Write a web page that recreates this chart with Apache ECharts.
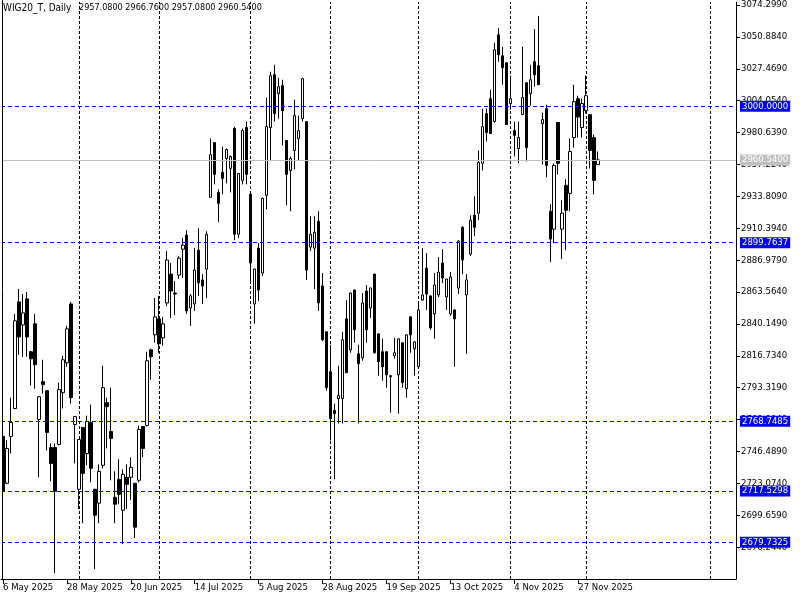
<!DOCTYPE html>
<html>
<head>
<meta charset="utf-8">
<script src="https://cdn.jsdelivr.net/npm/echarts@6/dist/echarts.min.js"></script>
<style>html,body{margin:0;padding:0;background:#fff}#chart{width:800px;height:600px}</style>
</head>
<body>
<div id="chart"></div>
<script>
const symbolName = 'WIG20_T, Daily';
const mayDays = [6,7,8,9,12,13,14,15,16,19,20,21,22,23,26,27,28,29,30];
const junDays = [2,3,4,5,6,9,10,11,12,13,16,17,18,20,23,24,25,26,27,30];
const julDays = [1,2,3,4,7,8,9,10,11,14,15,16,17,18,21,22,23,24,25,28,29,30,31];
const augDays = [1,4,5,6,7,8,11,12,13,14,18,19,20,21,22,25,26,27,28,29];
const sepDays = [1,2,3,4,5,8,9,10,11,12,15,16,17,18,19,22,23,24,25,26,29,30];
const octDays = [1,2,3,6,7,8,9,10,13,14,15,16,17,20,21,22,23,24,27,28,29,30,31];
const novDays = [3,4,5,6,7,10,12,13,14,17,18,19,20,21,24,25,26,27,28];
const decDays = [1,2,3,4];
const totalSlots = 184;           // bars + empty future space (chart shift)
const labelEvery = 16;
const monthStarts = [19, 39, 62, 82, 104, 127, 146, 177];

const opens = [2757.5,2723.1,2757.5,2778.0,2856.3,2839.4,2858.5,2819.7,2840.2,2769.9,2797.7,2791.1,2749.4,2749.4,2751.6,2789.7,2811.6,2854.8,2766.3,2718.7,
2764.1,2745.0,2767.7,2718.7,2708.5,2736.3,2782.4,2761.1,2712.8,2726.0,2703.3,2727.5,2727.5,2723.1,2725.3,2764.8,2765.5,2821.1,2832.1,2843.8,
2829.9,2855.5,2876.7,2862.8,2876.0,2895.0,2905.3,2851.9,2854.8,2894.3,2872.4,2880.4,2933.1,2973.3,2936.7,2951.4,2961.6,2954.3,2983.6,2906.0,
2945.5,2984.3,2935.3,2854.8,2895.8,2877.5,2934.5,2984.3,3023.1,3009.2,3015.0,2974.8,2952.8,2967.5,2976.3,2990.9,2988.7,2896.5,2895.8,2915.5,
2868.0,2834.3,2805.0,2776.5,2785.3,2785.3,2843.8,2821.1,2865.0,2818.2,2815.3,2864.3,2851.9,2876.7,2832.8,2819.7,2819.7,2802.1,2816.7,2802.8,
2826.3,2792.6,2845.3,2821.9,2808.7,2857.7,2881.1,2860.7,2847.5,2861.4,2884.8,2859.9,2847.5,2850.4,2866.5,2911.1,2861.4,2891.4,2919.9,2921.4,
2958.0,2994.6,3005.5,2988.7,3052.4,3037.0,3031.9,3001.9,2982.1,2968.9,2993.8,3017.2,3009.2,3032.6,3029.7,2987.2,2998.2,2922.8,2909.7,2988.0,
2909.7,2941.9,2936.0,2977.0,3005.5,2984.3,2996.7,2993.8,2977.0,2957.08];
const closes = [2717.2,2748.7,2767.7,2842.4,2830.6,2848.2,2830.6,2814.5,2810.2,2786.7,2795.5,2760.4,2737.7,2717.2,2791.9,2813.8,2836.5,2786.0,2772.1,2755.3,
2730.4,2768.5,2734.1,2699.7,2731.9,2793.3,2779.4,2756.0,2707.7,2715.0,2729.7,2722.4,2734.8,2690.9,2762.6,2748.7,2813.1,2816.0,2845.3,2825.5,
2840.2,2887.0,2864.3,2862.1,2888.4,2898.0,2849.7,2860.7,2879.7,2870.2,2868.0,2906.0,2964.5,2949.9,2928.7,2947.0,2968.2,2963.1,2906.0,2950.6,
2982.1,2949.9,2884.8,2880.4,2865.0,2932.4,2985.0,3022.4,2994.6,3014.3,2996.7,2949.9,2961.6,2993.1,2982.1,3020.2,2879.7,2906.0,2907.5,2855.5,
2828.5,2793.3,2770.6,2774.3,2787.5,2828.5,2804.3,2862.8,2835.8,2810.9,2855.5,2835.8,2866.5,2818.9,2812.4,2808.7,2802.8,2801.4,2818.9,2829.2,
2797.0,2832.1,2832.1,2827.0,2850.4,2861.4,2862.1,2837.2,2868.7,2878.2,2873.8,2873.1,2874.6,2843.8,2900.9,2887.0,2872.4,2916.3,2911.1,2958.7,
2985.0,2980.7,2979.9,3041.4,3037.7,3028.2,2986.5,3005.5,2978.5,2977.0,3006.3,2969.7,3019.4,3023.1,3015.8,2990.2,2956.5,2902.4,2956.5,2958.0,
2921.4,2923.6,2966.7,3003.3,2992.0,3001.9,3007.7,2967.5,2945.5,2960.54];
const lows = [2715.0,2722.4,2745.0,2777.5,2817.5,2816.0,2816.0,2794.8,2792.6,2727.5,2788.9,2747.2,2724.5,2657.2,2750.9,2778.0,2808.7,2781.6,2737.7,2704.1,
2693.8,2736.3,2723.8,2660.2,2693.8,2734.1,2748.7,2725.3,2693.8,2707.7,2678.5,2704.1,2710.7,2682.9,2723.8,2742.1,2764.8,2799.2,2826.3,2818.9,
2824.1,2853.3,2844.5,2846.7,2873.1,2873.8,2847.5,2838.7,2849.7,2860.7,2854.8,2859.2,2932.8,2942.6,2914.8,2935.3,2943.3,2936.7,2901.6,2903.1,
2942.6,2942.6,2871.6,2840.2,2857.0,2875.3,2924.3,2960.2,2988.7,2990.9,2971.1,2927.2,2922.8,2953.6,2960.0,2988.7,2872.4,2893.6,2865.8,2849.7,
2827.7,2791.1,2754.6,2726.0,2767.0,2767.0,2804.0,2819.0,2826.3,2767.0,2813.1,2826.3,2844.5,2818.2,2802.1,2798.5,2793.3,2775.0,2814.5,2774.3,
2793.3,2786.0,2818.9,2802.1,2808.4,2857.0,2850.4,2835.8,2829.2,2859.9,2870.2,2850.4,2846.0,2808.7,2862.1,2876.7,2818.2,2889.9,2904.5,2916.3,
2952.8,2974.1,2979.6,2988.0,3032.6,3015.8,2986.2,2997.5,2963.1,2958.0,2993.5,2959.4,3000.4,3014.3,3015.5,2957.2,2947.7,2885.5,2899.4,2949.9,
2887.7,2894.3,2922.8,2969.7,2977.0,2977.0,2994.6,2954.3,2935.3,2957.08];
const highs = [2761.9,2754.6,2786.0,2847.5,2865.8,2862.1,2863.6,2820.4,2847.5,2787.0,2813.8,2791.4,2752.4,2752.4,2797.0,2816.7,2838.7,2856.3,2772.4,2755.6,
2764.4,2772.8,2780.9,2719.0,2737.0,2809.4,2786.0,2793.3,2731.9,2740.7,2733.3,2737.0,2742.1,2723.4,2765.5,2765.1,2819.7,2821.9,2859.2,2860.7,
2845.3,2893.6,2884.8,2871.6,2889.9,2903.1,2908.9,2862.1,2895.8,2910.4,2876.7,2908.2,2976.3,2973.6,2938.9,2970.4,2968.9,2963.8,2985.0,2950.9,
2983.6,2988.7,2935.6,2880.7,2899.4,2932.7,3006.3,3025.3,3030.4,3020.9,3019.4,2975.1,2963.1,3004.8,2993.1,3020.9,2989.0,2919.2,2919.2,2922.8,
2877.5,2834.6,2824.8,2781.6,2809.4,2834.3,2857.7,2863.1,2865.3,2824.8,2862.8,2868.7,2866.8,2877.0,2833.1,2829.2,2820.0,2802.4,2829.9,2829.5,
2826.6,2832.4,2845.6,2827.3,2855.5,2895.8,2892.1,2861.0,2877.5,2889.2,2895.0,2873.4,2878.2,2850.7,2901.6,2911.9,2876.7,2919.9,2933.8,2967.5,
2998.2,2998.2,3012.1,3046.5,3057.5,3043.6,3032.2,3022.4,2988.7,2988.7,3043.6,3017.5,3030.4,3056.7,3066.3,2995.3,3001.1,2928.0,2958.0,2988.3,
2930.9,2946.3,2976.3,3015.8,3007.7,3005.5,3022.4,2994.1,2979.2,2966.76];

const levels = [3000.0000, 2899.7637, 2768.7485, 2717.5298, 2679.7325];
const yMin = 2652.829, yMax = 3076.494, yStep = 23.415;

const monthNames = [['May', mayDays], ['Jun', junDays], ['Jul', julDays], ['Aug', augDays], ['Sep', sepDays], ['Oct', octDays], ['Nov', novDays], ['Dec', decDays]];
const dates = [];
monthNames.forEach(([m, days]) => days.forEach(d => dates.push(d + ' ' + m + ' 2025')));
const categories = [];
for (let i = 0; i < totalSlots; i++) categories.push(i < dates.length ? dates[i] : 'slot' + i);

const candles = opens.map((o, i) => [o, closes[i], lows[i], highs[i]]);
const last = opens.length - 1;
const bid = closes[last];
const FONT = '"DejaVu Sans Condensed", "DejaVu Sans", sans-serif';
const FS = 9.5;
const showLabel = (idx) => idx % labelEvery === 0 && idx < dates.length;

const chart = echarts.init(document.getElementById('chart'), null, {renderer: 'canvas'});
chart.setOption({
  animation: false,
  backgroundColor: '#ffffff',
  title: [
    {text: symbolName, left: 3, top: 3, padding: 0,
     textStyle: {fontSize: 10, fontWeight: 'normal', color: '#000', fontFamily: FONT}},
    {text: [opens[last], highs[last], lows[last], closes[last]].map(v => v.toFixed(4)).join(' '),
     left: 79, top: 3, padding: 0,
     textStyle: {fontSize: 9, fontWeight: 'normal', color: '#000', fontFamily: FONT}}
  ],
  grid: {left: 0, right: 64, top: 0, bottom: 21},
  xAxis: {
    type: 'category', data: categories, boundaryGap: true,
    axisLine: {lineStyle: {color: '#000', width: 1}},
    axisTick: {show: true, interval: showLabel, alignWithLabel: true, length: 5, lineStyle: {color: '#000'}},
    axisLabel: {interval: showLabel, align: 'left', margin: 4, fontSize: FS, color: '#000', fontFamily: FONT},
    splitLine: {show: false}
  },
  yAxis: {
    type: 'value', position: 'right', min: yMin, max: yMax, interval: yStep,
    axisLine: {show: true, lineStyle: {color: '#000', width: 1}},
    axisTick: {show: true, length: 4, lineStyle: {color: '#000'}},
    axisLabel: {formatter: v => v.toFixed(4), showMinLabel: false, showMaxLabel: false, margin: 5, fontSize: FS, color: '#000', fontFamily: FONT},
    splitLine: {show: false}
  },
  graphic: [
    {type: 'rect', shape: {x: 0, y: 0, width: 2, height: 579}, style: {fill: '#ffffff'}, z: 9},
    {type: 'line', shape: {x1: 2.5, y1: 0, x2: 2.5, y2: 579}, style: {stroke: '#000', lineWidth: 1}, z: 10}
  ],
  series: [
    {
      type: 'line', data: [], z: 1, silent: true,
      markLine: {
        z: 1, silent: true, symbol: ['none', 'none'], animation: false,
        label: {show: false},
        lineStyle: {color: '#000', type: [3, 2], width: 1},
        emphasis: {disabled: true},
        data: monthStarts.map(i => ({xAxis: i}))
      }
    },
    {
      type: 'candlestick', data: candles, z: 2, barWidth: 3, silent: true,
      itemStyle: {color: '#ffffff', color0: '#000000', borderColor: '#000000', borderColor0: '#000000', borderWidth: 1},
      markLine: {
        z: 5, silent: true, symbol: ['none', 'none'], animation: false, precision: 4,
        emphasis: {disabled: true},
        data: [
          {yAxis: bid, lineStyle: {color: '#c0c0c0', type: 'solid', width: 1},
           label: {show: true, position: 'end', distance: 4, formatter: () => bid.toFixed(4), color: '#ffffff', backgroundColor: '#c0c0c0', padding: [1, 2, 0, 2], lineHeight: 10, fontSize: FS, fontFamily: FONT}}
        ].concat(levels.map(v => ({
          yAxis: v, lineStyle: {color: '#0000ff', type: [4, 3], width: 1},
          label: {show: true, position: 'end', distance: 4, formatter: () => v.toFixed(4), color: '#ffffff', backgroundColor: '#0000ff', padding: [1, 2, 0, 2], lineHeight: 10, fontSize: FS, fontFamily: FONT}
        })))
      }
    }
  ]
});
</script>
</body>
</html>
